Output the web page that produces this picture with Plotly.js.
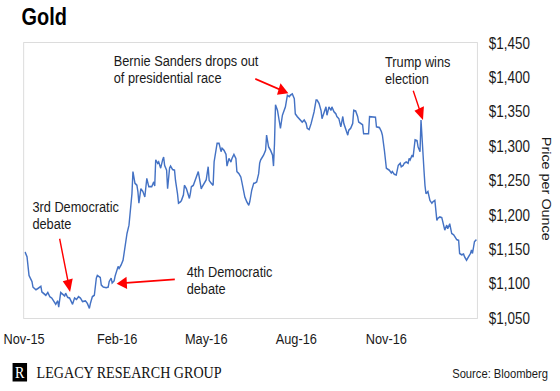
<!DOCTYPE html>
<html>
<head>
<meta charset="utf-8">
<script src="https://cdn.plot.ly/plotly-3.0.1.min.js"></script>
<style>
html,body{margin:0;padding:0;background:#fff;overflow:hidden;}
#wrap{width:560px;height:391px;overflow:hidden;position:relative;}
#chart{width:675px;height:391px;transform:scaleX(0.82963);transform-origin:0 0;}
</style>
</head>
<body>
<div id="wrap"><div id="chart"></div></div>
<script>
// Position along the time axis (approx. days from the start)
const t = [1,3,5,8,9,12,14,17,18,20,22,24,26,28,30,32,34,35,37,39,41,42,44,46,47,49,51,53,55,57,59,62,64,66,67,69,71,73,74,77,78,80,83,85,86,88,89,91,92,94,95,96,98,100,101,103,104,106,107,109,110,112,114,115,116,118,120,121,122,124,126,127,129,131,132,133,135,136,138,140,141,142,144,145,147,148,150,152,153,155,156,158,159,161,162,164,165,167,168,169,171,173,174,176,177,179,180,182,184,186,187,189,191,192,194,195,197,199,200,202,204,205,207,209,210,212,214,215,217,219,220,222,223,225,227,228,230,232,233,235,237,238,239,242,244,245,247,249,251,252,253,254,256,258,259,261,263,264,266,268,269,271,273,274,276,278,279,281,283,285,286,288,290,291,293,295,296,298,300,301,303,305,306,308,310,311,313,315,316,318,320,322,323,325,327,328,330,332,333,335,337,338,340,342,343,346,348,349,352,355,356,359,361,362,364,365,366,369,371,372,374,376,378,380,381,383,384,386,388,389,390,392,393,395,397,398,400,401,402,404,405,406,408,410,412,413,415,417,418,420,422,423,425,427,428,430,432,434,435,437,439,440,442,444,445,447,449,451,452,453,455,457];
// Gold price, USD per ounce
const prices = [1146,1139,1112,1103,1095,1091,1093,1096,1088,1086,1083,1087,1081,1079,1074,1070,1075,1066,1087,1085,1082,1086,1080,1079,1076,1070,1079,1077,1081,1079,1074,1075,1071,1064,1071,1081,1083,1108,1112,1109,1098,1095,1094,1095,1103,1108,1101,1104,1111,1120,1125,1122,1127,1134,1144,1158,1173,1185,1200,1231,1263,1246,1243,1234,1217,1238,1234,1229,1226,1253,1241,1241,1241,1248,1242,1280,1275,1277,1268,1280,1284,1272,1265,1238,1268,1271,1266,1265,1250,1231,1217,1219,1221,1229,1243,1238,1234,1224,1231,1241,1243,1250,1255,1263,1255,1238,1241,1246,1251,1270,1250,1246,1243,1277,1299,1304,1304,1292,1297,1294,1288,1271,1282,1277,1282,1288,1282,1263,1260,1255,1248,1231,1226,1219,1214,1219,1236,1246,1246,1248,1260,1275,1280,1287,1294,1316,1299,1294,1287,1271,1304,1360,1352,1335,1326,1345,1352,1357,1374,1372,1374,1376,1369,1347,1343,1340,1338,1335,1338,1333,1326,1324,1333,1338,1350,1367,1367,1362,1352,1340,1350,1357,1345,1357,1352,1357,1350,1347,1343,1340,1328,1343,1333,1323,1316,1323,1326,1333,1352,1351,1343,1335,1333,1331,1318,1318,1318,1343,1342,1342,1328,1327,1321,1316,1294,1275,1268,1265,1261,1263,1259,1258,1272,1275,1270,1272,1275,1277,1275,1282,1280,1287,1284,1309,1308,1299,1292,1338,1309,1265,1243,1231,1234,1221,1217,1219,1221,1192,1195,1197,1196,1190,1178,1185,1180,1187,1173,1171,1168,1164,1163,1144,1142,1143,1139,1134,1139,1144,1149,1144,1161,1164];

const tickPos = [0, 94, 184, 275, 366];
const tickLabels = ['Nov-15', 'Feb-16', 'May-16', 'Aug-16', 'Nov-16'];

// Event annotations: text lines and the point the arrow touches
const events = [
  {l1:'Bernie Sanders drops out', l2:'of presidential race', at:267, price:1377},
  {l1:'Trump wins', l2:'election', at:403, price:1338},
  {l1:'3rd Democratic', l2:'debate', at:46.5, price:1088},
  {l1:'4th Democratic', l2:'debate', at:93.5, price:1100}
];

// ---- layout geometry (final picture pixels) ----
const S = 560 / 675;              // horizontal squeeze of the final picture
const FULLW = 675;
const L = 24, R = 477, T = 43, B = 318;
const W = R - L, H = B - T;
const XMAX = 457.6;
const px = x => (x - L) / W;
const py = y => (B - y) / H;

const SANS = '"Liberation Sans", Arial, Helvetica, sans-serif';
const SERIF = '"Liberation Serif", "Times New Roman", serif';
const red = '#ff0000';
const ink = '#1a1a1a';

const textPos = [
  {x:112, y1:60.6, y2:77.6, tx:254, ty:78.3},
  {x:383.5, y1:61.6, y2:78.6, tx:412.7, ty:89.3},
  {x:31, y1:206.3, y2:223.9, tx:59.3, ty:237.3},
  {x:185.3, y1:271.1, y2:288.6, tx:176, ty:279.3}
];

const annotations = [];
events.forEach((e, i) => {
  const p = textPos[i];
  [[e.l1, p.y1], [e.l2, p.y2]].forEach(([txt, y]) => {
    annotations.push({
      xref:'paper', yref:'paper', x:px(p.x), y:py(y), xanchor:'left', yanchor:'middle',
      text:txt, showarrow:false, font:{family:SANS, size:15.4, color:ink}
    });
  });
  const tipX = L + e.at * (W / XMAX);
  const tipY = B - (e.price - 1050) * (H / 400);
  annotations.push({
    x:e.at, y:e.price, xref:'x', yref:'y', text:'', showarrow:true,
    ax:(p.tx - tipX) / S, ay:p.ty - tipY, arrowhead:2, arrowsize:1.45, arrowwidth:1.7,
    arrowcolor:red, standoff:0
  });
});

annotations.push({
  xref:'paper', yref:'paper', x:px(546), y:py(189), xanchor:'center', yanchor:'middle',
  text:'Price per Ounce', textangle:90, showarrow:false,
  font:{family:SANS, size:14.4, color:ink}
});
annotations.push({
  xref:'paper', yref:'paper', x:px(35), y:py(372.5), xanchor:'left', yanchor:'middle',
  text:'LEGACY RESEARCH GROUP', showarrow:false, font:{family:SERIF, size:17, color:'#111'}
});
annotations.push({
  xref:'paper', yref:'paper', x:px(19.8), y:py(372.3), xanchor:'center', yanchor:'middle',
  text:'R', showarrow:false, font:{family:SERIF, size:17, color:'#fff'}
});
annotations.push({
  xref:'paper', yref:'paper', x:px(550), y:py(373.3), xanchor:'right', yanchor:'middle',
  text:'Source: Bloomberg', showarrow:false, font:{family:SANS, size:13.5, color:ink}
});

const trace = {
  x: t, y: prices, type:'scatter', mode:'lines',
  line:{color:'#4472c4', width:1.7}, hoverinfo:'skip'
};

const layout = {
  width:FULLW, height:391,
  margin:{l:L / S, r:FULLW - R / S, t:T, b:391 - B, pad:0},
  paper_bgcolor:'#fff', plot_bgcolor:'#fff',
  showlegend:false,
  title:{text:'<b>Gold</b>', xref:'container', yref:'container', x:21.5/560, xanchor:'left',
         y:1 - 16.7/391, yanchor:'middle', font:{family:SANS, size:24, color:'#000'}},
  xaxis:{range:[0, XMAX], tickmode:'array', tickvals:tickPos, ticktext:tickLabels,
         showgrid:false, zeroline:false, showline:true, mirror:true, linecolor:'#d9d9d9', linewidth:1,
         ticks:'', ticklabelstandoff:7, tickfont:{family:SANS, size:15.4, color:ink}},
  yaxis:{range:[1050, 1450], dtick:50, side:'right', tickprefix:'$', tickformat:',d',
         showgrid:false, zeroline:false, showline:true, mirror:true, linecolor:'#d9d9d9', linewidth:1,
         ticks:'', ticklabelstandoff:10, tickfont:{family:SANS, size:16.2, color:ink}},
  shapes:[{type:'rect', xref:'paper', yref:'paper', x0:px(12.5), x1:px(27), y0:py(381.5), y1:py(363),
           fillcolor:'#000', line:{width:0}}],
  annotations: annotations
};

Plotly.newPlot('chart', [trace], layout, {staticPlot:true, displayModeBar:false});
</script>
</body>
</html>
